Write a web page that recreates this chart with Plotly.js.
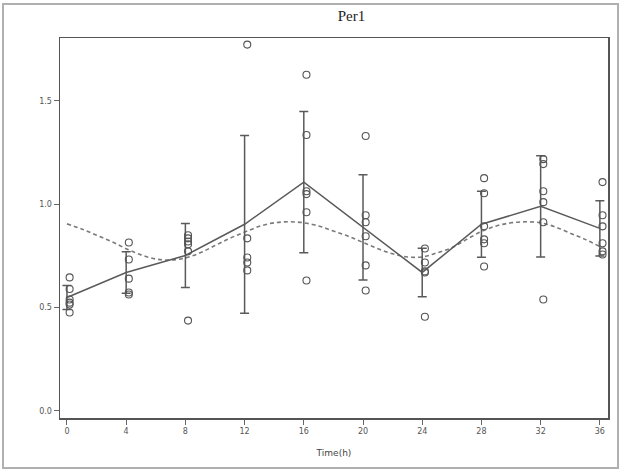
<!DOCTYPE html>
<html>
<head>
<meta charset="utf-8">
<script src="https://cdn.plot.ly/plotly-3.0.1.min.js"></script>
<style>
  html, body { margin: 0; padding: 0; background: #fff; }
  #frame { position: absolute; left: 2px; top: 3px; width: 613px; height: 462px; border: 2px solid #b0b0b0; }
  #chart { position: absolute; left: 0; top: 0; width: 630px; height: 473px; }
</style>
</head>
<body>
<div id="frame"></div>
<div id="chart"></div>
<script>
// Time points (h)
const times = [0, 4, 8, 12, 16, 20, 24, 28, 32, 36];
// Individual replicate values per time point
const rep_t0  = [0.646, 0.590, 0.539, 0.524, 0.515, 0.476];
const rep_t4  = [0.815, 0.733, 0.640, 0.573, 0.563];
const rep_t8  = [0.850, 0.835, 0.820, 0.806, 0.772, 0.437];
const rep_t12 = [1.772, 0.835, 0.742, 0.718, 0.680];
const rep_t16 = [1.626, 1.335, 1.063, 1.049, 0.961, 0.631];
const rep_t20 = [1.330, 0.947, 0.913, 0.845, 0.704, 0.583];
const rep_t24 = [0.786, 0.718, 0.675, 0.670, 0.456];
const rep_t28 = [1.126, 1.053, 0.893, 0.830, 0.811, 0.699];
const rep_t32 = [1.218, 1.194, 1.063, 1.010, 0.913, 0.539];
const rep_t36 = [1.107, 0.947, 0.893, 0.811, 0.772, 0.757];
const replicates = [rep_t0, rep_t4, rep_t8, rep_t12, rep_t16, rep_t20, rep_t24, rep_t28, rep_t32, rep_t36];
// Mean and SD per time point
const means = [0.549, 0.670, 0.752, 0.903, 1.107, 0.888, 0.670, 0.903, 0.990, 0.883];
const sds   = [0.058, 0.100, 0.155, 0.430, 0.342, 0.255, 0.117, 0.160, 0.245, 0.134];
// Fitted rhythm curve (dashed), read hourly
const fitTimes = [0,1,2,3,4,5,6,7,8,9,10,11,12,13,14,15,16,17,18,19,20,21,22,23,24,25,26,27,28,29,30,31,32,33,34,35,36];
const fitValues = [0.905,0.880,0.850,0.820,0.785,0.755,0.735,0.730,0.740,0.765,0.800,0.835,0.865,0.893,0.910,0.915,0.910,0.895,0.870,0.845,0.815,0.785,0.760,0.745,0.745,0.765,0.790,0.830,0.868,0.895,0.910,0.915,0.910,0.890,0.860,0.830,0.795];
const xTicks = [0, 4, 8, 12, 16, 20, 24, 28, 32, 36];
const yTicks = [0.0, 0.5, 1.0, 1.5];

const ptX = [], ptY = [];
const jitter = 0.18;
replicates.forEach((arr, i) => arr.forEach(v => { ptX.push(times[i] + jitter); ptY.push(v); }));

const traces = [
  {
    x: fitTimes, y: fitValues, type: 'scatter', mode: 'lines',
    line: { color: '#7a7a7a', width: 1.6, dash: '4px,3px', shape: 'spline' },
    hoverinfo: 'skip'
  },
  {
    x: times, y: means, type: 'scatter', mode: 'lines',
    line: { color: '#5a5a5a', width: 1.5 },
    error_y: { type: 'data', array: sds, visible: true, color: '#5a5a5a', thickness: 1.5, width: 4.5 }
  },
  {
    x: ptX, y: ptY, type: 'scatter', mode: 'markers',
    marker: { symbol: 'circle-open', size: 7, color: '#555', line: { width: 1.1, color: '#555' } }
  }
];

const layout = {
  width: 630, height: 473,
  margin: { l: 60, r: 22, t: 38, b: 55 },
  paper_bgcolor: 'rgba(0,0,0,0)',
  plot_bgcolor: '#fff',
  showlegend: false,
  title: {
    text: 'Per1',
    font: { family: 'Liberation Serif, DejaVu Serif, serif', size: 15, color: '#222' },
    x: 335/630, xanchor: 'center', y: 1 - 16/473, yanchor: 'middle', xref: 'paper', yref: 'container'
  },
  xaxis: {
    range: [-0.47, 36.55],
    tickvals: xTicks, ticktext: xTicks.map(String),
    ticks: 'outside', ticklen: 5, tickwidth: 1, tickcolor: '#666',
    showline: true, linecolor: '#555', linewidth: 1.5, mirror: true,
    showgrid: false, zeroline: false,
    tickfont: { family: 'DejaVu Sans, sans-serif', size: 8, color: '#555' },
    title: { text: 'Time(h)', font: { family: 'DejaVu Sans, sans-serif', size: 9, color: '#444' }, standoff: 14 }
  },
  yaxis: {
    range: [-0.034, 1.804],
    tickvals: yTicks, ticktext: yTicks.map(v => v.toFixed(1)),
    ticks: 'outside', ticklen: 5, tickwidth: 1, tickcolor: '#666',
    showline: true, linecolor: '#555', linewidth: 1.5, mirror: true,
    showgrid: false, zeroline: false,
    tickfont: { family: 'DejaVu Sans, sans-serif', size: 8, color: '#555' }
  }
};

Plotly.newPlot('chart', traces, layout, { displayModeBar: false, staticPlot: true });
</script>
</body>
</html>
